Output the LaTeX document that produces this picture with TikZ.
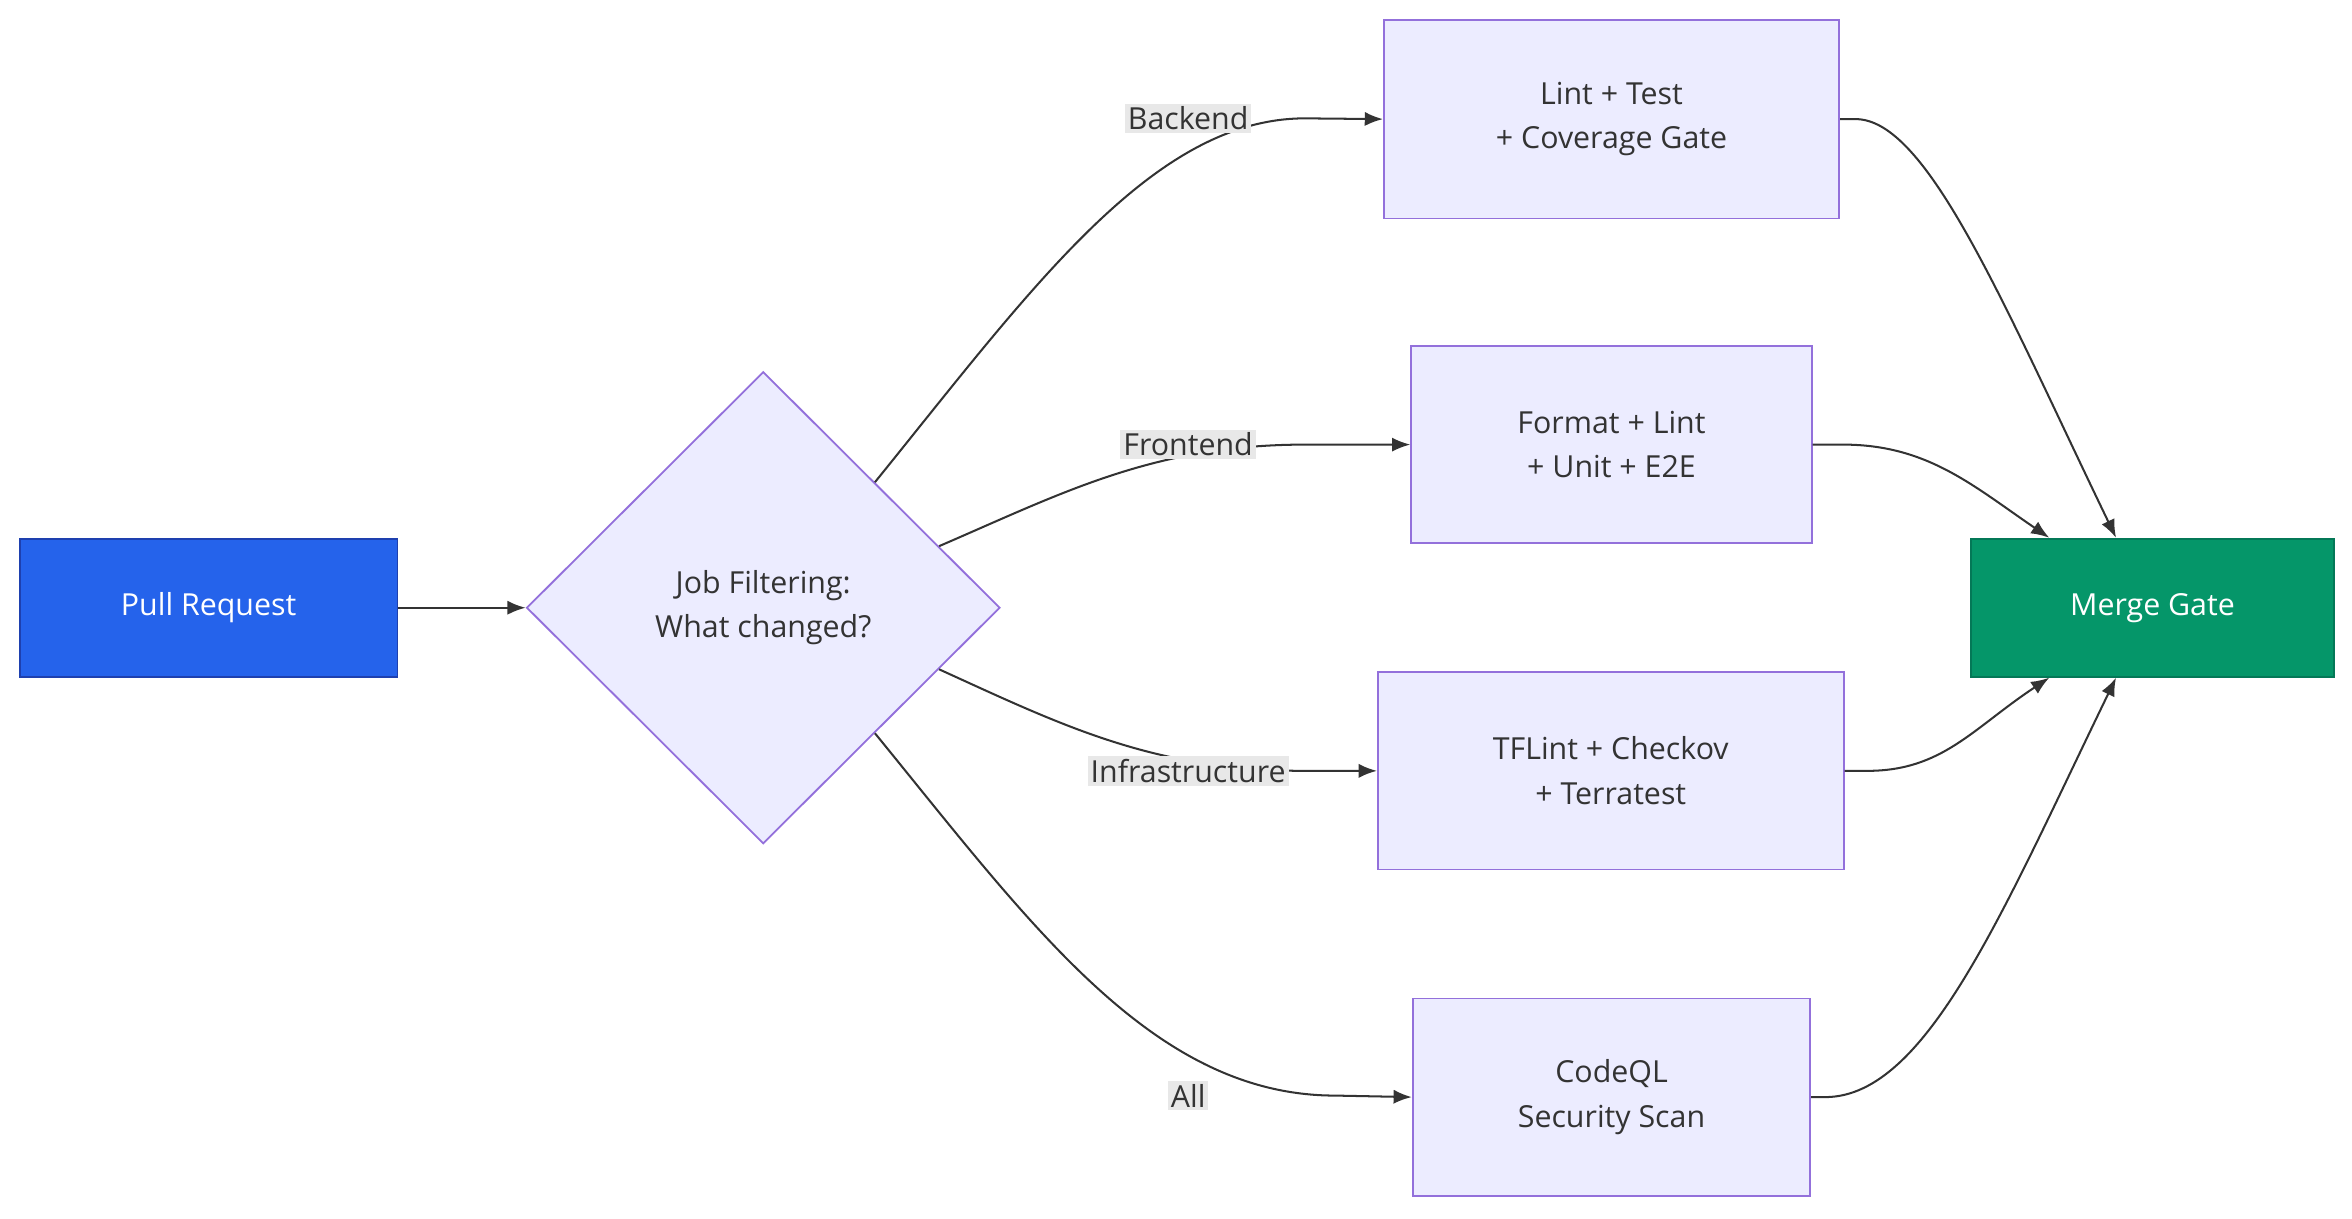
\documentclass[tikz,border=0pt]{standalone}
\usepackage{fontspec}
\setmainfont{Open Sans}
\usetikzlibrary{shapes.geometric,arrows.meta,calc}
\definecolor{boxfill}{HTML}{ECECFF}
\definecolor{boxdraw}{HTML}{9370DB}
\definecolor{txt}{HTML}{333333}
\definecolor{prfill}{HTML}{2563EB}
\definecolor{prdraw}{HTML}{1E40AF}
\definecolor{mgfill}{HTML}{059669}
\definecolor{mgdraw}{HTML}{047857}
\definecolor{lblbg}{HTML}{E8E8E8}
\begin{document}
\begin{tikzpicture}[x=0.75pt,y=-0.75pt,
  font=\fontsize{15}{22}\selectfont,
  box/.style={draw=boxdraw,fill=boxfill,text=txt,line width=0.9pt,align=center,inner sep=0},
  edge/.style={draw=txt,line width=1pt,-{Latex[length=9pt,width=7pt]}},
  lbl/.style={fill=lblbg,text=txt,inner sep=1.5pt}]
\useasboundingbox (0,0) rectangle (1550,803);
\node[box,draw=prdraw,fill=prfill,text=white,minimum width=249*0.75pt,minimum height=91*0.75pt] (pr) at (137.5,400.5) {Pull Request};
\node[box,shape=diamond,minimum width=312*0.75pt,minimum height=311*0.75pt] (d) at (503,400.5) {Job Filtering:\\What changed?};
\node[box,minimum width=300*0.75pt,minimum height=131*0.75pt] (b1) at (1062,78.5) {Lint + Test\\+ Coverage Gate};
\node[box,minimum width=264*0.75pt,minimum height=130*0.75pt] (b2) at (1062,293) {Format + Lint\\+ Unit + E2E};
\node[box,minimum width=307*0.75pt,minimum height=130*0.75pt] (b3) at (1061.5,508) {TFLint + Checkov\\+ Terratest};
\node[box,minimum width=262*0.75pt,minimum height=130*0.75pt] (b4) at (1062,723) {CodeQL\\Security Scan};
\node[box,draw=mgdraw,fill=mgfill,text=white,minimum width=239*0.75pt,minimum height=91*0.75pt] (mg) at (1418.5,400.5) {Merge Gate};
\draw[edge] (pr.east) -- (d.west);
\coordinate (s1) at ($(d.north)!0.47!(d.east)$);
\coordinate (s2) at ($(d.north)!0.74!(d.east)$);
\coordinate (s3) at ($(d.south)!0.74!(d.east)$);
\coordinate (s4) at ($(d.south)!0.47!(d.east)$);
\draw[edge] (s1) .. controls (680,190) and (760,78) .. (860,78) -- (b1.west);
\draw[edge] (s2) .. controls (700,325) and (760,293) .. (860,293) -- (b2.west);
\draw[edge] (s3) .. controls (700,478) and (760,508) .. (860,508) -- (b3.west);
\draw[edge] (s4) .. controls (680,610) and (760,722) .. (880,722) -- (b4.west);
\node[lbl] (l1) at (783,78) {Backend};
\node[lbl] (l2) at (783,293) {Frontend};
\node[lbl] (l3) at (783,508) {Infrastructure};
\node[lbl] (l4) at (783,722) {All};
\draw[edge] (b1.east) -- ++(10,0) .. controls (1270,78) and (1320,200) .. ($(mg.north)+(-24,0)$);
\draw[edge] (b2.east) -- ++(20,0) .. controls (1270,293) and (1300,320) .. ($(mg.north)+(-68,0)$);
\draw[edge] (b3.east) -- ++(15,0) .. controls (1280,508) and (1300,480) .. ($(mg.south)+(-68,0)$);
\draw[edge] (b4.east) -- ++(10,0) .. controls (1270,722) and (1320,600) .. ($(mg.south)+(-24,0)$);
\end{tikzpicture}
\end{document}
